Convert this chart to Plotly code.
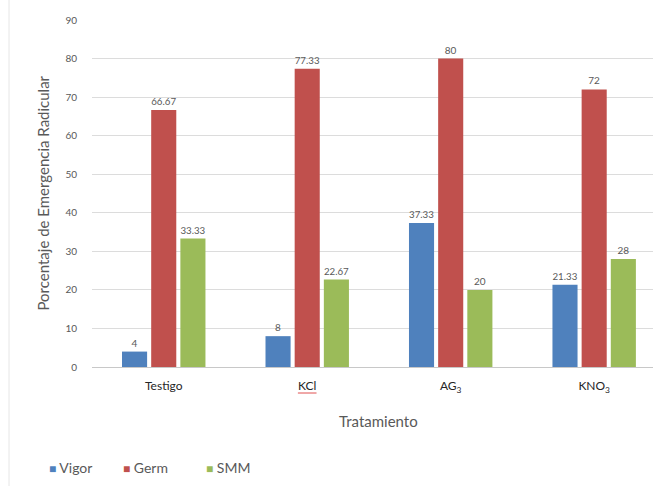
import plotly.graph_objects as go

# Treatments and measured percentages
tratamientos = ["Testigo", "KCl", "AG<sub>3</sub>", "KNO<sub>3</sub>"]
vigor = [4, 8, 37.33, 21.33]
germ = [66.67, 77.33, 80, 72]
smm = [33.33, 22.67, 20, 28]

series = [
    ("Vigor", vigor, "#4F81BD"),
    ("Germ", germ, "#C0504D"),
    ("SMM", smm, "#9BBB59"),
]

W, H = 653, 486
ML, MR, MT, MB = 92, 0, 20, 119
FONT = "Lato, 'Open Sans', Arial, sans-serif"
plot_w = W - ML - MR
plot_h = H - MT - MB


def px_x(px):
    """Horizontal pixel position -> paper coordinate."""
    return (px - ML) / plot_w


def px_y(py):
    """Vertical pixel position (from top) -> paper coordinate."""
    return (H - MB - py) / plot_h


fig = go.Figure()
for name, vals, color in series:
    fig.add_trace(go.Bar(
        name=name,
        x=list(range(len(tratamientos))),
        y=vals,
        marker=dict(color=color, line=dict(width=0)),
        texttemplate="%{y}",
        textposition="outside",
        textfont=dict(size=10, color="#595959", family=FONT),
        cliponaxis=False,
        showlegend=False,
    ))

fig.update_layout(
    width=W, height=H,
    margin=dict(l=ML, r=MR, t=MT, b=MB, pad=0),
    paper_bgcolor="white",
    plot_bgcolor="white",
    barmode="group",
    bargap=0.39,
    bargroupgap=0.14,
    font=dict(family=FONT, color="#595959"),
    showlegend=False,
    xaxis=dict(
        tickmode="array",
        tickvals=list(range(len(tratamientos))),
        ticktext=tratamientos,
        range=[-0.5, 3.41],
        showgrid=False,
        showline=True,
        linecolor="#C8C8C8",
        linewidth=1,
        ticks="",
        tickfont=dict(size=12, color="#262626", family=FONT),
        ticklabelstandoff=8,
        zeroline=False,
        fixedrange=True,
    ),
    yaxis=dict(
        range=[0, 90],
        tickmode="linear",
        tick0=0,
        dtick=10,
        showgrid=True,
        gridcolor="#DCDCDC",
        gridwidth=1,
        zeroline=False,
        showline=False,
        ticks="",
        tickfont=dict(size=10, color="#595959", family=FONT),
        ticklabelstandoff=14,
        fixedrange=True,
    ),
)

# Axis titles
fig.add_annotation(
    text="Porcentaje de Emergencia Radicular",
    xref="paper", yref="paper",
    x=px_x(42), y=0.5,
    textangle=-90, showarrow=False,
    font=dict(size=15, color="#595959", family=FONT),
    xanchor="center", yanchor="middle",
)
fig.add_annotation(
    text="Tratamiento",
    xref="x", yref="paper",
    x=1.5, y=px_y(421),
    showarrow=False,
    font=dict(size=15, color="#595959", family=FONT),
    xanchor="center", yanchor="middle",
)

# Legend row along the bottom: small coloured square followed by the series name
legend_left = [47, 121, 204]
for (name, _, color), left in zip(series, legend_left):
    fig.add_annotation(
        text=f"<span style='color:{color};font-size:12px'>■</span> {name}",
        xref="paper", yref="paper",
        x=px_x(left), y=px_y(467),
        showarrow=False,
        font=dict(size=14, color="#595959", family=FONT),
        xanchor="left", yanchor="middle",
    )

# Spell-check style underline beneath "KCl"
fig.add_shape(
    type="line", xref="x", yref="paper",
    x0=0.935, x1=1.065,
    y0=px_y(393), y1=px_y(393),
    line=dict(color="#E05050", width=1),
)

# Faint chart border on the left
fig.add_shape(
    type="line", xref="paper", yref="paper",
    x0=px_x(9), x1=px_x(9),
    y0=px_y(0), y1=px_y(H),
    line=dict(color="#E6E6E6", width=1),
)

fig.write_html("out.html")
